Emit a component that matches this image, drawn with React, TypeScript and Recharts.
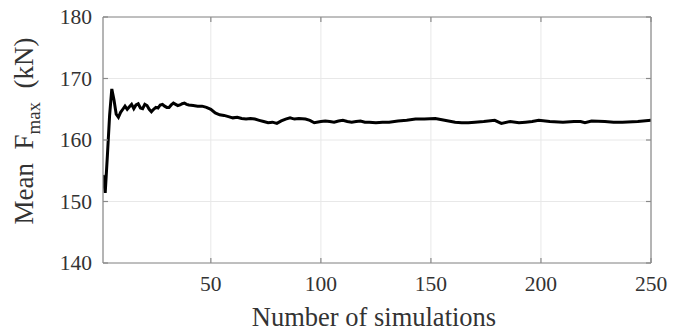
import React from 'react';
import { LineChart, Line, XAxis, YAxis, CartesianGrid } from 'recharts';

const simCounts = [
  1, 2, 3, 4, 5, 6, 7, 8, 9, 10, 11, 12, 13, 14, 15, 16, 17, 18, 19, 20,
  21, 22, 23, 24, 25, 26, 27, 28, 29, 30, 31, 32, 33, 34, 35, 36, 37, 38, 39, 40,
  42, 44, 46, 48, 50, 52, 54, 56, 58, 60, 62, 64, 66, 68, 70, 72, 74, 76, 78, 80,
  82, 84, 86, 88, 90, 93, 95, 97, 100, 102, 104, 106, 108, 110, 112, 114, 116, 118, 120, 122,
  125, 128, 131, 135, 139, 143, 147, 152, 155, 158, 161, 164, 167, 170, 174, 179, 182, 186, 190, 193,
  196, 199, 204, 210, 215, 218, 220, 223, 229, 233, 237, 244, 250,
];

const meanFmax = [
  154.3, 151.4, 157.5, 164.0, 168.3, 166.5, 164.2, 163.7, 164.5, 165.0, 165.5, 165.0, 165.4, 165.8, 165.1, 165.7, 165.9, 165.2, 165.1, 165.8,
  165.6, 165.0, 164.6, 165.0, 165.3, 165.2, 165.7, 165.8, 165.5, 165.3, 165.3, 165.7, 166.0, 165.8, 165.6, 165.7, 165.9, 166.0, 165.8, 165.7,
  165.6, 165.5, 165.5, 165.3, 165.0, 164.4, 164.1, 164.0, 163.8, 163.6, 163.7, 163.5, 163.4, 163.5, 163.4, 163.2, 163.0, 162.8, 162.9, 162.7,
  163.1, 163.4, 163.6, 163.4, 163.5, 163.4, 163.2, 162.8, 163.0, 163.1, 163.0, 162.9, 163.1, 163.2, 163.0, 162.9, 163.0, 163.1, 162.9, 162.9,
  162.8, 162.9, 162.9, 163.1, 163.2, 163.4, 163.4, 163.5, 163.3, 163.1, 162.9, 162.8, 162.8, 162.9, 163.0, 163.2, 162.7, 163.0, 162.8, 162.9,
  163.0, 163.2, 163.0, 162.9, 163.0, 163.0, 162.8, 163.1, 163.0, 162.9, 162.9, 163.0, 163.2,
];

const xTicks = [50, 100, 150, 200, 250];
const yTicks = [140, 150, 160, 170, 180];

const data = simCounts.map((n, i) => ({ n, v: meanFmax[i] }));

const FONT = '"Liberation Serif", "Times New Roman", serif';
const TEXT = '#333333';
const BOX = '#8a8a8a';

const BottomTick = (props: any) => {
  const { x, y, payload } = props;
  return (
    <g>
      <line x1={x} x2={x} y1={y} y2={y - 5} stroke={BOX} strokeWidth={1.2} />
      <text x={x} y={y + 28} textAnchor="middle" fontSize={21.5} fontFamily={FONT} fill={TEXT}>
        {payload.value}
      </text>
    </g>
  );
};

const TopTick = (props: any) => {
  const { x, y } = props;
  return <line x1={x} x2={x} y1={y} y2={y + 5} stroke={BOX} strokeWidth={1.2} />;
};

const LeftTick = (props: any) => {
  const { x, y, payload } = props;
  return (
    <g>
      <line x1={x} x2={x + 5} y1={y} y2={y} stroke={BOX} strokeWidth={1.2} />
      <text x={x - 11} y={y + 7} textAnchor="end" fontSize={21.5} fontFamily={FONT} fill={TEXT}>
        {payload.value}
      </text>
    </g>
  );
};

const RightTick = (props: any) => {
  const { x, y } = props;
  return <line x1={x} x2={x - 5} y1={y} y2={y} stroke={BOX} strokeWidth={1.2} />;
};

const YLabel = () => (
  <text
    x={33}
    y={131}
    transform="rotate(-90, 33, 131)"
    textAnchor="middle"
    fontSize={27}
    fontFamily={FONT}
    fill={TEXT}
    style={{ whiteSpace: 'pre' }}
  >
    <tspan>{'Mean  F'}</tspan>
    <tspan fontSize={19} dy={7}>max</tspan>
    <tspan dy={-7}>{'  (kN)'}</tspan>
  </text>
);

const XLabel = () => (
  <text x={374} y={326} textAnchor="middle" fontSize={26.5} fontFamily={FONT} fill={TEXT}>
    Number of simulations
  </text>
);

export default function App() {
  return (
    <div style={{ position: 'absolute', left: 0, top: 0, background: '#fff' }}>
      <LineChart width={674} height={334} data={data} margin={{ top: 16, right: 22, bottom: 0, left: 0 }}>
        <CartesianGrid xAxisId="main" yAxisId="main" stroke="#e8e8e8" strokeWidth={1} />
        <XAxis
          xAxisId="main"
          dataKey="n"
          type="number"
          domain={[1, 250]}
          ticks={xTicks}
          height={71}
          tickSize={0}
          tickMargin={0}
          tickLine={false}
          axisLine={{ stroke: BOX, strokeWidth: 1.2 }}
          tick={<BottomTick />}
          label={{ content: () => <XLabel /> }}
          allowDataOverflow
        />
        <XAxis
          xAxisId="top"
          orientation="top"
          dataKey="n"
          type="number"
          domain={[1, 250]}
          ticks={xTicks}
          height={1}
          tickSize={0}
          tickMargin={0}
          tickLine={false}
          axisLine={{ stroke: BOX, strokeWidth: 1.2 }}
          tick={<TopTick />}
          allowDataOverflow
        />
        <YAxis
          yAxisId="main"
          type="number"
          domain={[140, 180]}
          ticks={yTicks}
          width={103}
          tickSize={0}
          tickMargin={0}
          tickLine={false}
          axisLine={{ stroke: BOX, strokeWidth: 1.2 }}
          tick={<LeftTick />}
          label={{ content: () => <YLabel /> }}
          allowDataOverflow
        />
        <YAxis
          yAxisId="right"
          orientation="right"
          type="number"
          domain={[140, 180]}
          ticks={yTicks}
          width={1}
          tickSize={0}
          tickMargin={0}
          tickLine={false}
          axisLine={{ stroke: BOX, strokeWidth: 1.2 }}
          tick={<RightTick />}
          allowDataOverflow
        />
        <Line
          xAxisId="main"
          yAxisId="main"
          type="linear"
          dataKey="v"
          stroke="#000"
          strokeWidth={3}
          dot={false}
          isAnimationActive={false}
        />
      </LineChart>
    </div>
  );
}
